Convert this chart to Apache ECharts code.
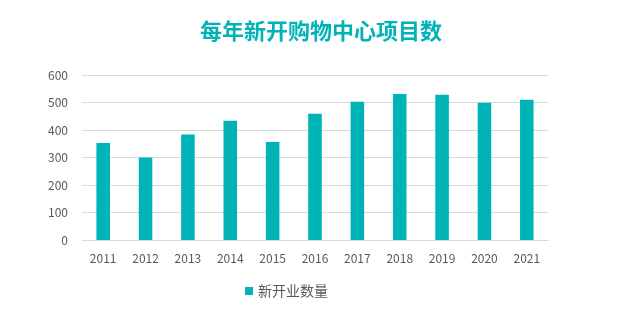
<!DOCTYPE html>
<html><head><meta charset="utf-8">
<script src="https://cdn.jsdelivr.net/npm/echarts@6/dist/echarts.min.js"></script>
<style>html,body{margin:0;padding:0;background:#fff}#c{width:618px;height:334px}</style>
</head><body><div id="c"></div>
<script>
const title = '每年新开购物中心项目数';
const categories = ['2011','2012','2013','2014','2015','2016','2017','2018','2019','2020','2021'];
const seriesName = '新开业数量';
const values = [353, 300, 384, 434, 356, 459, 503, 531, 528, 499, 510];
const yTicks = [0, 100, 200, 300, 400, 500, 600];

const color = '#00B3B7';
const font = '"Noto Sans CJK SC", "Noto Sans", sans-serif';
const chart = echarts.init(document.getElementById('c'), null, {renderer:'canvas'});
chart.setOption({
  animation: false,
  backgroundColor: '#fff',
  title: {
    text: title, left: 195, top: 15,
    textStyle: {color: color, fontSize: 22, fontWeight: 'bold', fontFamily: font}
  },
  legend: {
    data: [seriesName], bottom: 31, left: 240, itemWidth: 8, itemHeight: 8, icon: 'rect',
    itemGap: 4,
    textStyle: {color: '#595959', fontSize: 14, fontFamily: font}
  },
  grid: {left: 82, right: 70, top: 75, bottom: 94, containLabel: false},
  xAxis: {
    type: 'category', data: categories,
    axisLine: {lineStyle: {color: '#d9d9d9'}},
    axisTick: {show: false},
    axisLabel: {color: '#595959', fontSize: 12, margin: 12, fontFamily: font}
  },
  yAxis: {
    type: 'value', min: yTicks[0], max: yTicks[yTicks.length-1], interval: 100,
    axisLine: {show: false}, axisTick: {show: false},
    splitLine: {lineStyle: {color: '#d9d9d9'}},
    axisLabel: {color: '#595959', fontSize: 12, margin: 14, fontFamily: font}
  },
  series: [{
    name: seriesName, type: 'bar', data: values, barWidth: '32%',
    itemStyle: {color: color}
  }]
});
</script></body></html>
